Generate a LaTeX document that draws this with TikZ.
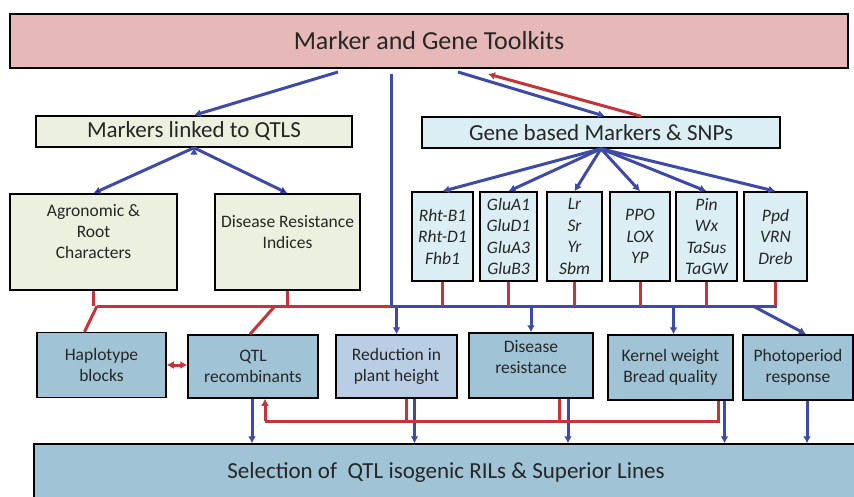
\documentclass[tikz,border=0pt]{standalone}
\usepackage{fontspec}
\setmainfont{Carlito}
\usepackage{tikz}
\usetikzlibrary{%
  positioning
 ,arrows.meta
 ,calc
}
\definecolor{kitpink}{RGB}{230,185,184}
\definecolor{qtlgreen}{RGB}{235,241,222}
\definecolor{genecyan}{RGB}{218,238,243}
\definecolor{selblue}{RGB}{160,196,214}
\definecolor{redblue}{RGB}{185,205,229}
\definecolor{arrblue}{RGB}{62,74,168}
\definecolor{arrred}{RGB}{196,52,58}
\definecolor{txt}{RGB}{38,38,38}
\tikzstyle{bx}=[draw=black,line width=1.5pt,inner sep=1pt,align=center,text=txt]
\tikzstyle{hd}=[font=\fontsize{23}{26}\selectfont]
\tikzstyle{sm}=[font=\fontsize{17.5}{21}\selectfont]
\tikzstyle{gn}=[bx,fill=genecyan,minimum height=89pt,font=\fontsize{17.5}{21.5}\selectfont\itshape]
\tikzstyle{lw}=[bx,sm,fill=selblue,minimum height=65pt]
\tikzstyle{bl}=[draw=arrblue,line width=3pt]
\tikzstyle{rd}=[draw=arrred,line width=3pt]

\begin{document}
\begin{tikzpicture}[x=1pt,y=-1pt,>={Latex[length=7pt,width=8pt]}]
  \useasboundingbox[fill=white] (0,0) rectangle (854,497);
  % top levels
  \node[bx,fill=kitpink,minimum width=838pt,minimum height=54pt,
        font=\fontsize{26}{30}\selectfont] (kit) at (429,41) {Marker and Gene Toolkits};
  \node[bx,hd,fill=qtlgreen,minimum width=316pt,minimum height=31pt] (mlq) at (194,131.5) {Markers linked to QTLS};
  \node[bx,hd,fill=genecyan,minimum width=358pt,minimum height=31pt] (gbm) at (601,132.5) {Gene based Markers \& SNPs};
  \node[bx,sm,fill=qtlgreen,minimum width=167pt,minimum height=96pt] (agro) at (93.5,242) {Agronomic \&\\Root\\Characters\\\mbox{}};
  \node[bx,sm,fill=qtlgreen,minimum width=145pt,minimum height=96pt] (dri) at (287.5,242) {Disease Resistance\\Indices\\\mbox{}};
  % gene boxes
  \node[gn,minimum width=61pt] (g1) at (442.5,236.5) {Rht-B1\\Rht-D1\\Fhb1};
  \node[gn,minimum width=57pt] (g2) at (508.5,236.5) {GluA1\\GluD1\\GluA3\\GluB3};
  \node[gn,minimum width=55pt] (g3) at (574.5,236.5) {Lr\\Sr\\Yr\\Sbm};
  \node[gn,minimum width=60pt] (g4) at (640,236.5) {PPO\\LOX\\YP};
  \node[gn,minimum width=61pt] (g5) at (706.5,236.5) {Pin\\Wx\\TaSus\\TaGW};
  \node[gn,minimum width=63pt] (g6) at (775.5,236.5) {Ppd\\VRN\\Dreb};
  % trait boxes
  \node[lw,minimum width=129pt] (hap) at (101.5,365) {Haplotype\\blocks};
  \node[lw,minimum width=130pt,minimum height=63pt] (qtl) at (253,366.5) {QTL\\recombinants};
  \node[lw,fill=redblue,minimum width=121pt,minimum height=63pt] (rph) at (396.5,366.5) {Reduction in\\plant height};
  \node[lw,minimum width=124pt] (dis) at (531,365.5) {Disease\\resistance\\[-4pt]};
  \node[lw,minimum width=125pt] (kwt) at (670.5,367.5) {Kernel weight\\Bread quality};
  \node[lw,minimum width=110pt] (pho) at (798,367.5) {Photoperiod\\response};
  \node[bx,hd,fill=selblue,minimum width=824pt,minimum height=56pt] (sel) at (446,472) {Selection of~ QTL isogenic RILs \& Superior Lines};
  % junctions
  \coordinate (kA) at (338,72);
  \coordinate (kB) at (458,72);
  \coordinate (kC) at (488,74);
  \coordinate (kD) at (391,74);
  \coordinate (jR) at (97,306);
  \coordinate (jQ) at (275,306);
  \coordinate (jB) at (391,306);
  \coordinate (jE) at (777,306);
  \coordinate (jP) at (753,306);
  \coordinate (rf) at (265,421);
  % blue links
  \draw[bl,->] (kA) -- (mlq.north);
  \draw[bl,->] (kB) -- ([xshift=4pt]gbm.north);
  \draw[rd,->] ([xshift=40pt]gbm.north) -- (kC);
  \draw[bl] (kD) -- (jB) -- (jE);
  \path[bl,->]
    (mlq.south) edge (agro.north)
    (mlq.south) edge (dri.north);
  \foreach \g in {g1,g2,g3,g4,g5,g6}
    \draw[bl,->] (gbm.south) -- (\g.north);
  \foreach \g in {g1,g2,g3,g4,g5,g6}
    \draw[rd] (\g.south) -- (\g.south |- jB);
  \draw[bl,->] (rph.north |- jB) -- (rph.north);
  \draw[bl,->] (dis.north |- jB) -- (dis.north);
  \draw[bl,->] ([xshift=3pt]kwt.north |- jB) -- ([xshift=3pt]kwt.north);
  \draw[bl,->] (jP) -- ([xshift=8pt]pho.north);
  % red links
  \draw[rd] (jR) -- (jB);
  \draw[rd] (agro.south) -- (agro.south |- jR);
  \draw[rd] (dri.south) -- (dri.south |- jR);
  \draw[rd] (jR) -- ([xshift=-17pt]hap.north);
  \draw[rd] (jQ) -- ([xshift=-3pt]qtl.north);
  \draw[rd,<->] (hap.east) -- (qtl.west |- hap.east);
  % down to selection
  \draw[bl,->] ([xshift=-1pt]qtl.south) -- ([xshift=-1pt]qtl.south |- sel.north);
  \draw[bl,->] ([xshift=18pt]rph.south) -- ([xshift=18pt]rph.south |- sel.north);
  \draw[bl,->] ([xshift=37pt]dis.south) -- ([xshift=37pt]dis.south |- sel.north);
  \draw[bl,->] ([xshift=54pt]kwt.south) -- ([xshift=54pt]kwt.south |- sel.north);
  \draw[bl,->] ([xshift=9pt]pho.south) -- ([xshift=9pt]pho.south |- sel.north);
  % feedback
  \draw[rd] ([xshift=48pt]kwt.south) |- (rf);
  \draw[rd,->] (rf) -- (rf |- qtl.south);
  \draw[rd] ([xshift=10pt]rph.south) -- ([xshift=10pt]rph.south |- rf);
  \draw[rd] ([xshift=28pt]dis.south) -- ([xshift=28pt]dis.south |- rf);
\end{tikzpicture}
\end{document}
